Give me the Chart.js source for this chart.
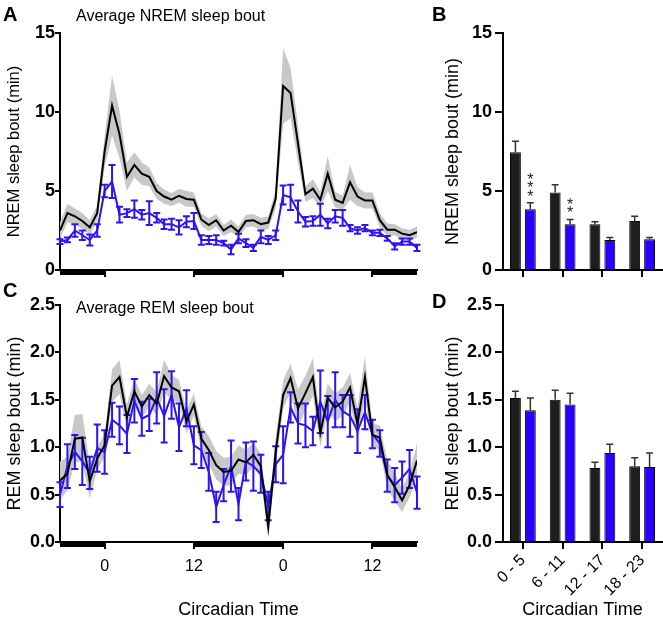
<!DOCTYPE html>
<html>
<head>
<meta charset="utf-8">
<script src="https://cdn.jsdelivr.net/npm/chart.js@4.4.1/dist/chart.umd.min.js"></script>
<style>
body { margin:0; background:#fff; width:663px; height:621px; position:relative; overflow:hidden; font-family: Arial, "Liberation Sans", sans-serif; }
canvas { position:absolute; }
.lbl { position:absolute; font-weight:bold; font-size:20px; line-height:20px; }
.sub { position:absolute; font-size:16px; line-height:16px; white-space:nowrap; }
</style>
</head>
<body>
<canvas id="chartA" width="430" height="290" style="left:0;top:0"></canvas>
<canvas id="chartB" width="225" height="290" style="left:438px;top:0"></canvas>
<canvas id="chartC" width="430" height="331" style="left:0;top:290px"></canvas>
<canvas id="chartD" width="225" height="331" style="left:438px;top:290px"></canvas>
<div class="lbl" style="left:3px;top:4px">A</div>
<div class="lbl" style="left:432px;top:4px">B</div>
<div class="lbl" style="left:3px;top:280px">C</div>
<div class="lbl" style="left:432px;top:291px">D</div>
<div class="sub" style="left:76px;top:8px">Average NREM sleep bout</div>
<div class="sub" style="left:76px;top:300px">Average REM sleep bout</div>
<script>
// circadian time, hourly
var ct = [-6,-5,-4,-3,-2,-1,0,1,2,3,4,5,6,7,8,9,10,11,12,13,14,15,16,17,18,19,20,21,22,23,24,
          25,26,27,28,29,30,31,32,33,34,35,36,37,38,39,40,41,42];
var ctTicks = [0, 12, 24, 36];
var ctTickLabels = ['0', '12', '0', '12'];
var darkPhases = [[-6, 0], [12, 24], [36, 42]];

// NREM bout (min)
var nremBlack = [2.5,3.6,3.4,3.1,2.7,3.6,7.5,10.4,8.6,5.9,6.65,6.1,5.9,5.0,4.65,4.45,4.7,4.5,4.45,3.2,2.85,3.15,2.5,2.8,2.4,3.1,3.15,2.9,3.0,4.5,11.65,
                 11.2,8.0,4.8,5.15,4.45,6.1,4.45,4.25,5.55,4.65,4.4,4.4,3.15,2.55,2.55,2.3,2.2,2.4];
var nremBlackSem = [0.5,0.6,0.5,0.5,0.45,0.5,1.0,1.9,1.5,0.9,0.8,0.7,0.6,0.5,0.45,0.4,0.45,0.5,0.45,0.4,0.4,0.4,0.35,0.4,0.35,0.4,0.4,0.4,0.4,0.6,2.4,
                    1.6,1.2,0.5,0.6,0.5,1.1,0.5,0.45,1.1,0.6,0.5,0.5,0.45,0.4,0.35,0.35,0.35,0.35];
var nremBlue = [1.8,1.9,2.5,2.2,1.9,2.5,5.0,5.6,3.5,3.6,3.85,3.5,3.6,3.3,2.9,2.9,2.7,3.05,3.1,1.9,1.9,1.9,1.7,1.3,2.0,1.7,1.4,2.1,1.9,2.2,4.75,
                4.6,3.7,3.05,3.1,3.5,2.95,3.4,3.3,2.65,2.5,2.65,2.35,2.35,2.0,1.5,1.8,1.8,1.4];
var nremBlueSem = [0.15,0.15,0.4,0.3,0.35,0.4,0.4,1.05,0.5,0.25,0.55,0.3,0.75,0.3,0.3,0.35,0.45,0.35,0.5,0.3,0.25,0.3,0.15,0.3,0.3,0.25,0.2,0.4,0.25,0.3,0.6,
                   0.8,0.7,0.3,0.3,0.7,0.3,0.4,0.5,0.2,0.2,0.2,0.15,0.2,0.15,0.2,0.2,0.2,0.2];

// REM bout (min)
var remBlack = [0.65,0.72,1.09,1.1,0.64,0.88,1.02,1.65,1.74,1.32,1.59,1.43,1.55,1.46,1.75,1.63,1.59,1.27,1.45,1.09,0.97,0.81,0.74,0.75,0.87,0.84,0.92,0.8,0.16,0.95,1.55,
                1.73,1.41,1.57,1.74,1.15,1.52,1.42,1.48,1.63,1.24,1.74,1.13,1.1,0.71,0.58,0.44,0.6,0.86];
var remBlackSem = [0.2,0.18,0.25,0.25,0.18,0.12,0.12,0.17,0.18,0.13,0.13,0.12,0.12,0.12,0.17,0.13,0.12,0.12,0.12,0.13,0.15,0.15,0.15,0.15,0.15,0.13,0.13,0.13,0.12,0.15,0.15,
                   0.15,0.2,0.18,0.2,0.15,0.15,0.15,0.15,0.15,0.18,0.22,0.12,0.13,0.15,0.15,0.12,0.13,0.18];
var remBlue = [0.5,0.8,0.95,0.85,0.73,0.99,0.95,1.29,1.23,1.14,1.49,1.3,1.34,1.52,1.33,1.55,1.21,1.41,1.02,0.97,0.74,0.37,0.6,0.8,0.4,0.85,0.8,0.72,0.38,0.82,0.92,
               1.42,1.25,1.23,1.17,1.48,1.27,1.5,1.38,1.33,1.17,1.37,1.14,1.04,0.7,0.6,0.68,0.77,0.52];
var remBlueSem = [0.13,0.23,0.18,0.25,0.17,0.25,0.23,0.18,0.2,0.2,0.23,0.18,0.17,0.27,0.28,0.25,0.25,0.19,0.2,0.19,0.2,0.16,0.17,0.27,0.17,0.2,0.26,0.2,0.15,0.19,0.3,
                  0.16,0.21,0.23,0.15,0.33,0.27,0.29,0.17,0.22,0.23,0.18,0.15,0.14,0.17,0.18,0.17,0.2,0.17];

// binned bars
var bins = ['0 - 5', '6 - 11', '12 - 17', '18 - 23'];
var nremBarBlack = [7.45, 4.9, 2.9, 3.1];
var nremBarBlackSem = [0.7, 0.5, 0.15, 0.3];
var nremBarBlue = [3.85, 2.9, 1.9, 1.95];
var nremBarBlueSem = [0.4, 0.3, 0.15, 0.1];
var nremStars = ['***', '**', '', ''];
var remBarBlack = [1.52, 1.5, 0.78, 0.8];
var remBarBlackSem = [0.07, 0.1, 0.06, 0.09];
var remBarBlue = [1.39, 1.45, 0.94, 0.79];
var remBarBlueSem = [0.13, 0.12, 0.09, 0.15];
var remStars = ['', '', '', ''];

var BLUE = 'rgb(45,20,245)';
var BLUE_BAR = 'rgb(40,0,255)';
var GREY = 'rgb(200,200,200)';
var FONT = 'Arial, "Liberation Sans", sans-serif';

Chart.defaults.font.family = FONT;
Chart.defaults.color = '#000';

function xy(arr) {
  return ct.map(function (t, i) { return { x: t, y: arr[i] }; });
}

var errorBars = {
  id: 'errorBars',
  afterDatasetDraw: function (chart, args) {
    var ds = chart.data.datasets[args.index];
    if (!ds.errors) return;
    var ctx = chart.ctx, y = chart.scales.y;
    ctx.save();
    ctx.strokeStyle = ds.errorColor;
    ctx.lineWidth = ds.errorWidth;
    args.meta.data.forEach(function (el, i) {
      var m = ds.means[i], e = ds.errors[i];
      var yTop = y.getPixelForValue(m + e);
      var yBot = ds.errUpOnly ? y.getPixelForValue(m) : y.getPixelForValue(m - e);
      var c = ds.capHalf;
      ctx.beginPath();
      ctx.moveTo(el.x, yBot); ctx.lineTo(el.x, yTop);
      ctx.moveTo(el.x - c, yTop); ctx.lineTo(el.x + c, yTop);
      if (!ds.errUpOnly) { ctx.moveTo(el.x - c, yBot); ctx.lineTo(el.x + c, yBot); }
      ctx.stroke();
      if (ds.stars && ds.stars[i]) {
        ctx.fillStyle = '#222';
        ctx.font = '16px ' + FONT;
        ctx.textAlign = 'center';
        ctx.textBaseline = 'alphabetic';
        for (var k = 0; k < ds.stars[i].length; k++) {
          ctx.fillText('*', el.x, yTop - 10 - k * 8.5 + 9);
        }
      }
    });
    ctx.restore();
  }
};

var darkBars = {
  id: 'darkBars',
  afterDraw: function (chart) {
    var ctx = chart.ctx, x = chart.scales.x, area = chart.chartArea;
    ctx.save();
    ctx.fillStyle = '#000';
    darkPhases.forEach(function (p) {
      var x0 = x.getPixelForValue(p[0]), x1 = x.getPixelForValue(p[1]);
      ctx.fillRect(x0, area.bottom + 1, x1 - x0, 4);
    });
    ctx.restore();
  }
};

function yAxis(o) {
  return {
    min: 0, max: o.max,
    ticks: { stepSize: o.step, color: '#000', padding: o.tickPad, font: { size: 18, weight: 'bold' },
             callback: function (v) { return o.dec ? v.toFixed(1) : v; } },
    grid: { drawOnChartArea: false, color: '#000', lineWidth: 2, tickLength: o.tickLen },
    border: { color: '#000', width: 2 },
    title: { display: true, text: o.title, font: { size: o.titleSize }, padding: { top: o.titlePad, bottom: 0 } },
    afterFit: function (s) { s.width = o.width; }
  };
}

function lineChart(id, o) {
  var upper = o.black.map(function (v, i) { return v + o.blackSem[i]; });
  var lower = o.black.map(function (v, i) { return Math.max(0, v - o.blackSem[i]); });
  return new Chart(document.getElementById(id), {
    type: 'line',
    data: {
      datasets: [
        { data: xy(o.black), borderColor: '#000', borderWidth: 2, pointRadius: 0, tension: 0, order: 0 },
        { data: xy(o.blue), borderColor: BLUE, borderWidth: 2, pointRadius: 0, tension: 0, order: 1,
          means: o.blue, errors: o.blueSem, errorColor: BLUE, errorWidth: 2, capHalf: 3.5 },
        { data: xy(upper), borderColor: 'rgba(0,0,0,0)', borderWidth: 0, pointRadius: 0, tension: 0,
          backgroundColor: GREY, fill: '+1', order: 2 },
        { data: xy(lower), borderColor: 'rgba(0,0,0,0)', borderWidth: 0, pointRadius: 0, tension: 0,
          fill: false, order: 2 }
      ]
    },
    options: {
      responsive: false, animation: false,
      layout: { padding: { left: 0, right: o.padRight, top: o.padTop, bottom: 0 } },
      plugins: { legend: { display: false }, tooltip: { enabled: false } },
      scales: {
        x: {
          type: 'linear', min: -6, max: 42,
          afterBuildTicks: function (s) { s.ticks = ctTicks.map(function (v) { return { value: v }; }); },
          ticks: { color: '#000', padding: 8, font: { size: 16 }, maxRotation: 0,
                   callback: function (v, i) { return o.xLabels ? ctTickLabels[i] : ''; } },
          grid: { drawOnChartArea: false, color: '#000', lineWidth: 2, tickLength: 7 },
          border: { color: '#000', width: 2 },
          title: { display: !!o.xTitle, text: o.xTitle, font: { size: 18 }, padding: { top: 0, bottom: 0 } },
          afterFit: function (s) { s.height = o.xHeight; }
        },
        y: yAxis(o.y)
      }
    },
    plugins: [errorBars, darkBars]
  });
}

function barChart(id, o) {
  return new Chart(document.getElementById(id), {
    type: 'bar',
    data: {
      labels: bins,
      datasets: [
        { data: o.black, backgroundColor: '#1e1e1e', borderColor: '#000', borderWidth: 1,
          categoryPercentage: 0.75, barPercentage: 0.73,
          means: o.black, errors: o.blackSem, errUpOnly: true, errorColor: '#333', errorWidth: 1.5, capHalf: 3.5 },
        { data: o.blue, backgroundColor: BLUE_BAR, borderColor: '#000', borderWidth: 1,
          categoryPercentage: 0.75, barPercentage: 0.73,
          means: o.blue, errors: o.blueSem, errUpOnly: true, errorColor: '#333', errorWidth: 1.5, capHalf: 3.5,
          stars: o.stars }
      ]
    },
    options: {
      responsive: false, animation: false,
      layout: { padding: { left: 0, right: 1, top: o.padTop, bottom: 0 } },
      plugins: { legend: { display: false }, tooltip: { enabled: false } },
      scales: {
        x: {
          ticks: { color: '#000', padding: 2, font: { size: 16 }, autoSkip: false,
                   minRotation: o.xLabels ? 45 : 0, maxRotation: o.xLabels ? 45 : 0,
                   callback: function (v, i) { return o.xLabels ? bins[i] : ''; } },
          grid: { offset: false, drawOnChartArea: false, color: '#000', lineWidth: 2, tickLength: 7 },
          border: { color: '#000', width: 2 },
          title: { display: !!o.xTitle, text: o.xTitle, font: { size: 18 }, padding: { top: 0, bottom: 0 } },
          afterFit: function (s) { s.height = o.xHeight; }
        },
        y: yAxis(o.y)
      }
    },
    plugins: [errorBars]
  });
}

lineChart('chartA', {
  black: nremBlack, blackSem: nremBlackSem, blue: nremBlue, blueSem: nremBlueSem,
  padTop: 33, padRight: 13, xHeight: 20, xLabels: false, xTitle: '',
  y: { max: 15, step: 5, dec: false, title: 'NREM sleep bout (min)', titleSize: 16.5, titlePad: 5, width: 60, tickLen: 5, tickPad: 0 }
});
barChart('chartB', {
  black: nremBarBlack, blackSem: nremBarBlackSem, blue: nremBarBlue, blueSem: nremBarBlueSem, stars: nremStars,
  padTop: 33, xHeight: 20, xLabels: false, xTitle: '',
  y: { max: 15, step: 5, dec: false, title: 'NREM sleep bout (min)', titleSize: 18, titlePad: 4, width: 65, tickLen: 8, tickPad: 3 }
});
lineChart('chartC', {
  black: remBlack, blackSem: remBlackSem, blue: remBlue, blueSem: remBlueSem,
  padTop: 15, padRight: 13, xHeight: 79, xLabels: true, xTitle: 'Circadian Time',
  y: { max: 2.5, step: 0.5, dec: true, title: 'REM sleep bout (min)', titleSize: 18, titlePad: 4, width: 60, tickLen: 5, tickPad: 0 }
});
barChart('chartD', {
  black: remBarBlack, blackSem: remBarBlackSem, blue: remBarBlue, blueSem: remBarBlueSem, stars: remStars,
  padTop: 15, xHeight: 79, xLabels: true, xTitle: 'Circadian Time',
  y: { max: 2.5, step: 0.5, dec: true, title: 'REM sleep bout (min)', titleSize: 18, titlePad: 4, width: 65, tickLen: 8, tickPad: 3 }
});
</script>
</body>
</html>
